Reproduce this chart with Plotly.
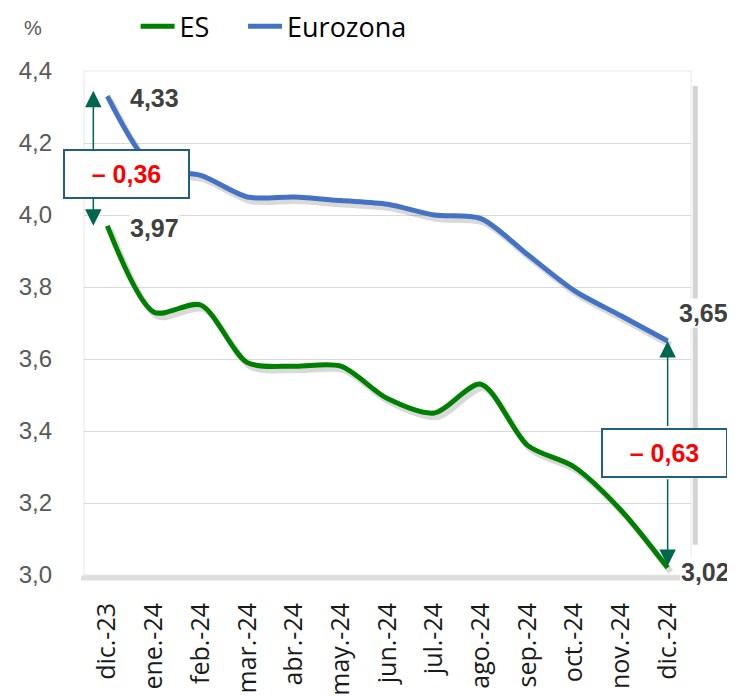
import plotly.graph_objects as go

categories = ["dic.-23", "ene.-24", "feb.-24", "mar.-24", "abr.-24", "may.-24", "jun.-24",
              "jul.-24", "ago.-24", "sep.-24", "oct.-24", "nov.-24", "dic.-24"]
es_values = [3.97, 3.73, 3.75, 3.59, 3.58, 3.58, 3.49, 3.45, 3.53, 3.36, 3.30, 3.18, 3.02]
ez_values = [4.33, 4.13, 4.11, 4.05, 4.05, 4.04, 4.03, 4.00, 3.99, 3.89, 3.79, 3.72, 3.65]
y_ticks = [3.0, 3.2, 3.4, 3.6, 3.8, 4.0, 4.2, 4.4]

GREEN = "#008000"
BLUE = "#4472C4"
ARROW = "#00664F"
BOX = "#1F5F7F"
LABEL_FONT = "Liberation Sans, Arial, sans-serif"
SANS = "Open Sans, Lato, sans-serif"

def fmt(v):
    return f"{v:.2f}".replace(".", ",")

def fmt_diff(v):
    return ("\u2013 " if v < 0 else "+ ") + fmt(abs(v))

xs = list(range(len(categories)))
XR = [-0.5, len(categories) - 0.5]
YR = [3.0, 4.4]
# page has an 8px body margin: figure is sized to fit the window
W, H = 727, 690
ML, MT, MR, MB = 76, 63, 44, 123
PW = W - ML - MR
PH = H - MT - MB
px_x = (XR[1] - XR[0]) / PW
px_y = (YR[1] - YR[0]) / PH
sx, sy = 3 * px_x, 4 * px_y

fig = go.Figure()
fig.add_trace(go.Scatter(x=xs, y=es_values, mode="lines", line=dict(width=0, color="rgba(0,0,0,0)"),
                         showlegend=False, hoverinfo="skip", xaxis="x", yaxis="y"))
for vals in (es_values, ez_values):
    fig.add_trace(go.Scatter(x=xs, y=vals, mode="lines", line=dict(width=6, color="rgba(0,0,0,0.15)", shape="spline", smoothing=0.8),
                             showlegend=False, hoverinfo="skip", xaxis="x2", yaxis="y2"))
fig.add_trace(go.Scatter(x=xs, y=es_values, mode="lines", name="ES", legend="legend",
                         line=dict(width=5, color=GREEN, shape="spline", smoothing=0.8), xaxis="x3", yaxis="y3"))
fig.add_trace(go.Scatter(x=xs, y=ez_values, mode="lines", name="Eurozona", legend="legend2",
                         line=dict(width=5, color=BLUE, shape="spline", smoothing=0.8), xaxis="x3", yaxis="y3"))

ann = []
lab = dict(showarrow=False, font=dict(family=LABEL_FONT, size=25, color="#404040", weight="bold"),
           bgcolor="white", xanchor="left", xref="x", yref="y", borderpad=0)
ann.append(dict(lab, x=0, y=ez_values[0], text=fmt(ez_values[0]), xshift=22, yshift=-2))
ann.append(dict(lab, x=0, y=es_values[0], text=fmt(es_values[0]), xshift=22, yshift=-2))
ann.append(dict(lab, x=12, y=ez_values[-1], text=fmt(ez_values[-1]), xshift=10, yshift=28))
ann.append(dict(lab, x=12, y=es_values[-1], text=fmt(es_values[-1]), xshift=12, yshift=-4))

d0 = es_values[0] - ez_values[0]
d1 = es_values[-1] - ez_values[-1]
box = dict(showarrow=False, font=dict(family=LABEL_FONT, size=25, color="#FF0000", weight="bold"),
           bgcolor="white", bordercolor=BOX, borderwidth=2, borderpad=2, width=119, height=42,
           xref="x", yref="y")
arrow = dict(text="", showarrow=True, arrowhead=2, arrowsize=2.2, arrowwidth=1.5, arrowcolor=ARROW,
             xref="x", yref="y", axref="x", ayref="y", standoff=0, startstandoff=0)
ax0 = -0.3
ann.append(dict(arrow, x=ax0, y=ez_values[0] + 0.015, ax=ax0, ay=4.178))
ann.append(dict(arrow, x=ax0, y=es_values[0], ax=ax0, ay=4.05))
ann.append(dict(arrow, x=12, y=ez_values[-1], ax=12, ay=3.41))
ann.append(dict(arrow, x=12, y=es_values[-1] + 0.005, ax=12, ay=3.27))
ann.append(dict(box, x=0.42, y=4.113, text=fmt_diff(d0)))
ann.append(dict(box, x=11.93, y=3.34, text=fmt_diff(d1)))

ann.append(dict(text="%", showarrow=False, xref="paper", yref="paper", x=-0.084, y=1.085,
                xanchor="center", yanchor="middle",
                font=dict(family=LABEL_FONT, size=20, color="#595959")))

shapes = [
    dict(type="rect", xref="paper", yref="paper", x0=0, x1=1, y0=0, y1=1,
         line=dict(color="#E6E6E6", width=1), layer="below"),
    dict(type="line", xref="paper", yref="paper", x0=1.007, x1=1.007, y0=0.06, y1=0.97,
         line=dict(color="rgba(0,0,0,0.17)", width=5), layer="below"),
    dict(type="line", xref="paper", yref="paper", x0=-0.005, x1=0.985, y0=-0.006, y1=-0.006,
         line=dict(color="rgba(0,0,0,0.13)", width=5), layer="below"),
]

leg = dict(orientation="h", xanchor="left", y=1.088, yanchor="middle",
           font=dict(family=SANS, size=27, color="#000000"), itemwidth=34,
           bgcolor="rgba(0,0,0,0)")

hidden = dict(visible=False, showgrid=False, zeroline=False, fixedrange=True)
fig.update_layout(
    width=W, height=H,
    margin=dict(l=ML, r=MR, t=MT, b=MB, autoexpand=False),
    paper_bgcolor="white", plot_bgcolor="white",
    showlegend=True,
    legend=dict(leg, x=0.085),
    legend2=dict(leg, x=0.262),
    xaxis=dict(range=XR, tickmode="array", tickvals=xs, ticktext=categories, tickangle=-90,
               showgrid=False, zeroline=False, showline=False, ticks="", ticklabelstandoff=22,
               automargin=False, tickfont=dict(family=SANS, size=25, color="#1A1A1A")),
    yaxis=dict(range=YR, tickmode="array", tickvals=y_ticks,
               ticktext=[f"{v:.1f}".replace(".", ",") for v in y_ticks],
               showgrid=True, gridcolor="#D9D9D9", gridwidth=1, zeroline=False, showline=False,
               ticks="", ticklabelstandoff=31, automargin=False,
               tickfont=dict(family=LABEL_FONT, size=24, color="#595959")),
    xaxis2=dict(hidden, range=[XR[0] - sx, XR[1] - sx], overlaying="x", anchor="y2"),
    yaxis2=dict(hidden, range=[YR[0] + sy, YR[1] + sy], overlaying="y", anchor="x2"),
    xaxis3=dict(hidden, range=XR, overlaying="x", anchor="y3"),
    yaxis3=dict(hidden, range=YR, overlaying="y", anchor="x3"),
    annotations=ann,
    shapes=shapes,
)

fig.write_html("out.html")
